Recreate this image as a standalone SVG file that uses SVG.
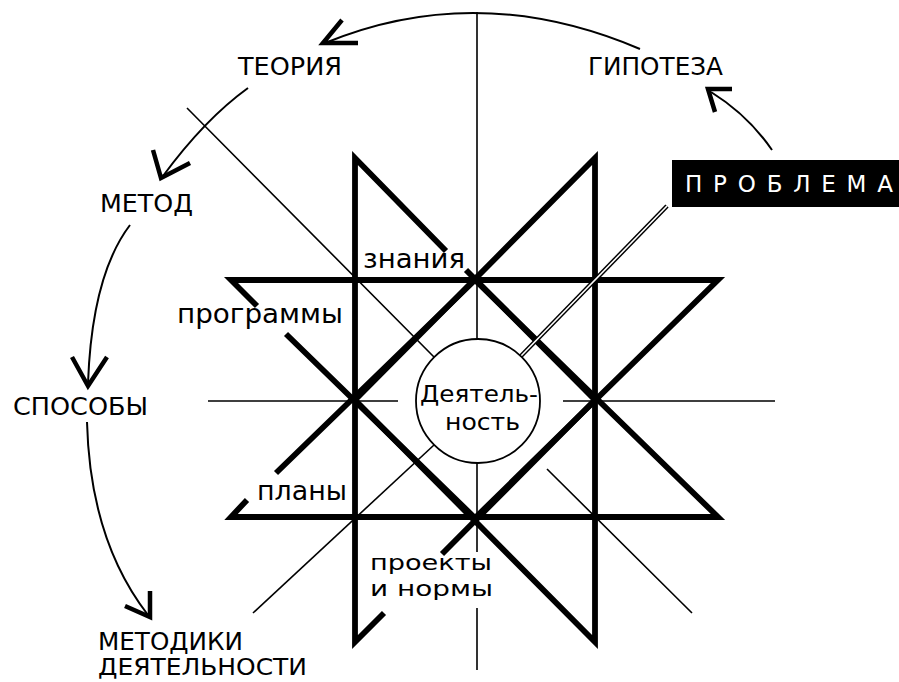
<svg xmlns="http://www.w3.org/2000/svg" width="899" height="682" viewBox="0 0 899 682">
<style>
.thick{fill:none;stroke:#000;stroke-width:5.8;stroke-linejoin:miter;stroke-miterlimit:6}
.thin{fill:none;stroke:#000;stroke-width:1.6}
.arc{fill:none;stroke:#000;stroke-width:2}
.head{fill:none;stroke:#000;stroke-width:4.5;stroke-linejoin:miter;stroke-linecap:butt}
text{font-family:"DejaVu Sans","Liberation Sans",sans-serif;fill:#000}
.cap{font-size:25px}
.low{font-size:27px}
</style>
<rect width="899" height="682" fill="#fff"/>
<g id="axes">
<path class="thin" d="M477 12V339M477 463V552M477 608V670"/>
<path class="thin" d="M208 401H398M563 401H775"/>
<path class="thin" d="M187 108L434 357M547 469L692 613"/>
<path class="thin" d="M253 613L434 445"/>
</g>
<g id="star">
<path class="thick" d="M446 251L355 158L355 642L384 613M442 554L595 400L466 270"/>
<polygon class="thick" points="595,158 595,642 355,400"/>
<path class="thick" d="M257 306L231 280L718 280L475 518L286 334"/>
<path class="thick" d="M247 500L231 517L718 517L475 280L276 473"/>
</g>
<g id="problema-link">
<path d="M521 356L667 206" stroke="#000" stroke-width="4.5" fill="none"/>
<path d="M521 356L667 206" stroke="#fff" stroke-width="1.6" fill="none"/>
</g>
<g id="node-activity">
<circle cx="478" cy="401" r="62" fill="#fff" stroke="#000" stroke-width="1.8"/>
<text x="420" y="402" font-size="23" textLength="118" lengthAdjust="spacingAndGlyphs">Деятель-</text>
<text x="445" y="430" font-size="23" textLength="75" lengthAdjust="spacingAndGlyphs">ность</text>
</g>
<g id="node-problema">
<rect x="672" y="160" width="227" height="47" fill="#000"/>
<text x="685" y="192" font-size="23" style="fill:#fff" textLength="208" lengthAdjust="spacing">ПРОБЛЕМА</text>
</g>
<g id="node-teoriya"><text class="cap" x="238" y="75" textLength="104" lengthAdjust="spacingAndGlyphs">ТЕОРИЯ</text></g>
<g id="node-gipoteza"><text class="cap" x="588" y="75" textLength="135" lengthAdjust="spacingAndGlyphs">ГИПОТЕЗА</text></g>
<g id="node-metod"><text class="cap" x="100" y="212" textLength="93" lengthAdjust="spacingAndGlyphs">МЕТОД</text></g>
<g id="node-sposoby"><text class="cap" x="13" y="415" textLength="135" lengthAdjust="spacingAndGlyphs">СПОСОБЫ</text></g>
<g id="node-metodiki">
<text x="98" y="650" font-size="24" textLength="145" lengthAdjust="spacingAndGlyphs">МЕТОДИКИ</text>
<text x="98" y="675" font-size="23" textLength="209" lengthAdjust="spacingAndGlyphs">ДЕЯТЕЛЬНОСТИ</text>
</g>
<g id="node-znaniya"><text class="low" x="363" y="268" textLength="102" lengthAdjust="spacingAndGlyphs">знания</text></g>
<g id="node-programmy"><text class="low" x="177" y="323" textLength="166" lengthAdjust="spacingAndGlyphs">программы</text></g>
<g id="node-plany"><text class="low" x="257" y="500" textLength="90" lengthAdjust="spacingAndGlyphs">планы</text></g>
<g id="node-proekty">
<text x="370" y="570" font-size="22" textLength="122" lengthAdjust="spacingAndGlyphs">проекты</text>
<text x="370" y="596" font-size="22" textLength="123" lengthAdjust="spacingAndGlyphs">и нормы</text>
</g>
<g id="connectors">
<path class="arc" d="M640 49Q478 -20 325 43"/>
<polyline class="head" points="342,20 323,43 358,43"/>
<path class="arc" d="M772 150Q748 115 711 92"/>
<polyline class="head" points="732,89 708,89 715,112"/>
<path class="arc" d="M248 88Q205 119 163 176"/>
<polyline class="head" points="153,150 161,178 190,163"/>
<path class="arc" d="M130 225Q92 275 88 383"/>
<polyline class="head" points="72,357 88,386 107,357"/>
<path class="arc" d="M87 422Q90 540 148 615"/>
<polyline class="head" points="150,591 150,617 125,606"/>
</g>
</svg>
